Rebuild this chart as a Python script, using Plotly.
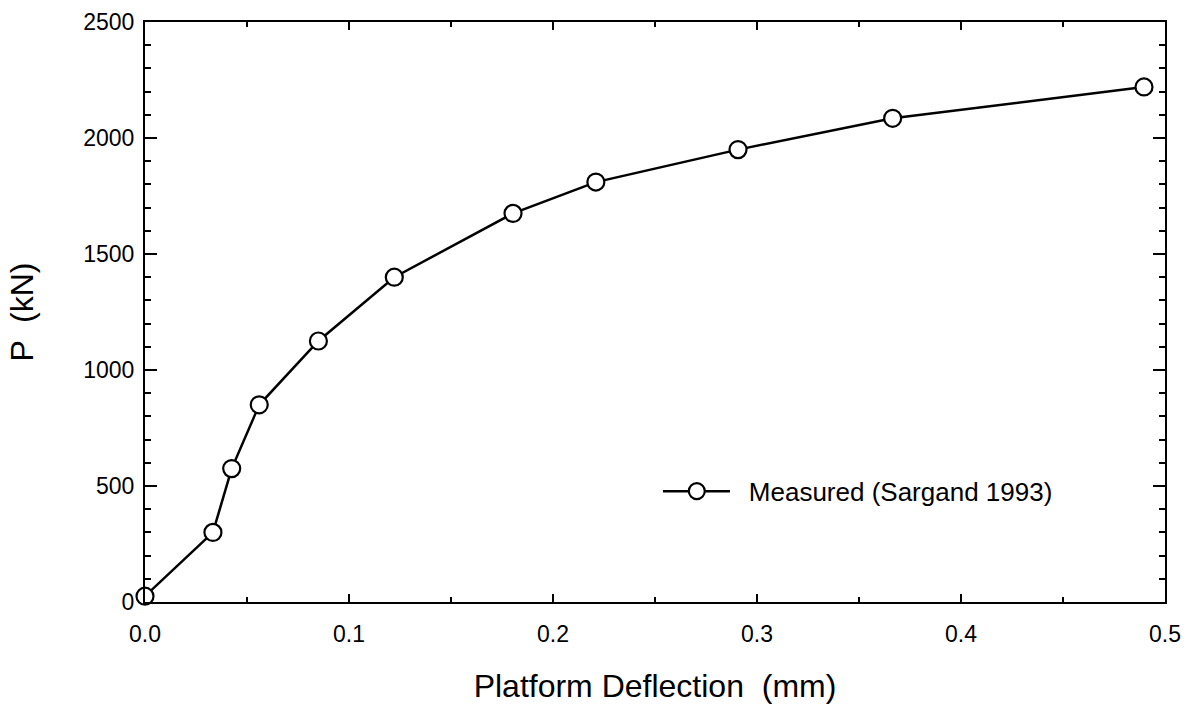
import plotly.graph_objects as go

# Platform deflection (mm) vs. load P (kN)
deflection_mm = [0.0, 0.0333, 0.0425, 0.056, 0.085, 0.1222, 0.1804, 0.221, 0.2907, 0.3665, 0.4897]
load_kN = [25, 300, 575, 850, 1125, 1400, 1675, 1810, 1950, 2085, 2220]
series_name = "Measured (Sargand 1993)"

x_ticks = [0.0, 0.1, 0.2, 0.3, 0.4, 0.5]
x_tick_labels = ["0.0", "0.1", "0.2", "0.3", "0.4", "0.5"]
y_ticks = [0, 500, 1000, 1500, 2000, 2500]
y_tick_labels = ["0", "500", "1000", "1500", "2000", "2500"]

FONT = "Liberation Sans, Arial, sans-serif"
MARKER = dict(symbol="circle", size=17, color="white", line=dict(color="black", width=2.2))

fig = go.Figure()
fig.add_trace(go.Scatter(
    x=deflection_mm, y=load_kN, name=series_name,
    mode="lines+markers",
    line=dict(color="black", width=2.5),
    marker=MARKER,
    cliponaxis=False,
    showlegend=False,
))
# legend entry: marker only, the key line is drawn as a paper-space shape below it
fig.add_trace(go.Scatter(
    x=[None], y=[None], name=series_name, mode="markers", marker=MARKER,
))

axis_common = dict(
    showgrid=False, zeroline=False, showline=True, linecolor="black", linewidth=2,
    mirror="ticks", ticks="inside", tickcolor="black", automargin=False,
    tickfont=dict(family=FONT, size=23, color="black"),
)

fig.update_xaxes(
    range=[0, 0.5], tickvals=x_ticks, ticktext=x_tick_labels,
    ticklen=8, tickwidth=1.5, ticklabelstandoff=10,
    minor=dict(dtick=0.05, ticks="inside", ticklen=5, tickcolor="black", tickwidth=1.5),
    title=dict(text="Platform Deflection  (mm)", font=dict(family=FONT, size=32, color="black"), standoff=34),
    **axis_common,
)
fig.update_yaxes(
    range=[0, 2500], tickvals=y_ticks, ticktext=y_tick_labels,
    ticklen=12, tickwidth=1.5, ticklabelstandoff=4,
    minor=dict(dtick=100, ticks="inside", ticklen=6, tickcolor="black", tickwidth=1.5),
    title=dict(text="P  (kN)", font=dict(family=FONT, size=32, color="black"), standoff=40),
    **axis_common,
)

legend_y = 0.191
fig.add_shape(
    type="line", xref="paper", yref="paper",
    x0=0.5078, x1=0.5735, y0=legend_y, y1=legend_y,
    line=dict(color="black", width=2.5), layer="above",
)

fig.update_layout(
    width=1188, height=704,
    margin=dict(l=145, r=23, t=22, b=102),
    paper_bgcolor="white", plot_bgcolor="white",
    showlegend=True,
    legend=dict(
        x=0.49, y=legend_y, xanchor="left", yanchor="middle",
        itemwidth=94,
        bgcolor="rgba(0,0,0,0)", borderwidth=0,
        font=dict(family=FONT, size=26, color="black"),
    ),
)

fig.write_html("out.html")
